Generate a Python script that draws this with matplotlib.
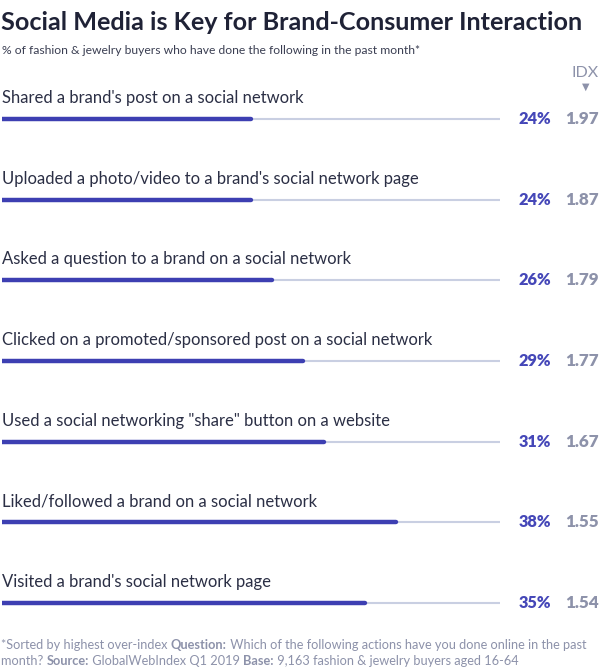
import matplotlib.pyplot as plt

plt.rcParams['font.family'] = ['Lato', 'DejaVu Sans']

# data
actions = [
    "Shared a brand's post on a social network",
    "Uploaded a photo/video to a brand's social network page",
    "Asked a question to a brand on a social network",
    "Clicked on a promoted/sponsored post on a social network",
    'Used a social networking "share" button on a website',
    "Liked/followed a brand on a social network",
    "Visited a brand's social network page",
]
pct = [24, 24, 26, 29, 31, 38, 35]
idx = [1.97, 1.87, 1.79, 1.77, 1.67, 1.55, 1.54]
track_max = 48.0

W, H = 600, 670
fig = plt.figure(figsize=(6, 6.7), dpi=100)

# bars axis: y index 0..6 -> pixel rows 119..603
ax = fig.add_axes([2 / W, 1 - 643 / H, 498 / W, (643 - 79) / H])
ax.set_xlim(0, track_max)
ax.set_ylim(len(actions) - 0.5, -0.5)
ax.axis('off')

ys = list(range(len(actions)))
ax.hlines(ys, 0, track_max, color='#c9cfe2', lw=1.5, capstyle='round')
ax.hlines(ys, 0, pct, color='#3d3fb2', lw=3.2, capstyle='round')

tr = ax.get_yaxis_transform()
for y, lab, p, v in zip(ys, actions, pct, idx):
    ax.text(0, y - 0.26, lab, transform=tr, fontsize=12, color='#2b2f45',
            va='center', ha='left')
    ax.text((551 - 2) / 498, y, f"{p}%", transform=tr, fontsize=11.8,
            fontweight='heavy', color='#4547b8', va='center', ha='right',
            clip_on=False)
    ax.text((599 - 2) / 498, y, f"{v:.2f}", transform=tr, fontsize=12.3,
            fontweight='heavy', color='#8d92aa', va='center', ha='right',
            clip_on=False)

# header
fig.text(1 / W, 1 - 22 / H, "Social Media is Key for Brand-Consumer Interaction",
         fontsize=18.1, fontweight='bold', color='#1f2236', va='center', ha='left')
fig.text(2 / W, 1 - 51 / H,
         "% of fashion & jewelry buyers who have done the following in the past month*",
         fontsize=8.7, color='#3a3e52', va='center', ha='left')
fig.text(599 / W, 1 - 73 / H, "IDX", fontsize=11.5, color='#8d92aa',
         va='center', ha='right')
fig.text(586 / W, 1 - 87 / H, "\u25BC", fontsize=7, color='#8d92aa',
         va='center', ha='center')

# footnote, built from plain and bold pieces
foot_col = '#8d92aa'
lines = [
    [("*Sorted by highest over-index ", 'normal'), ("Question:", 'bold'),
     (" Which of the following actions have you done online in the past", 'normal')],
    [("month? ", 'normal'), ("Source:", 'bold'),
     (" GlobalWebIndex Q1 2019 ", 'normal'), ("Base:", 'bold'),
     (" 9,163 fashion & jewelry buyers aged 16-64", 'normal')],
]
for ypix, parts in zip([649, 665], lines):
    prev = None
    for s, wt in parts:
        if prev is None:
            prev = fig.text(1 / W, 1 - ypix / H, s, fontsize=9.2, color=foot_col,
                            fontweight=wt, va='baseline', ha='left')
        else:
            prev = ax.annotate(s, xy=(1, 0), xycoords=prev, fontsize=9.2,
                               color=foot_col, fontweight=wt, va='bottom',
                               ha='left', annotation_clip=False)

fig.savefig('out.png', dpi=100)
